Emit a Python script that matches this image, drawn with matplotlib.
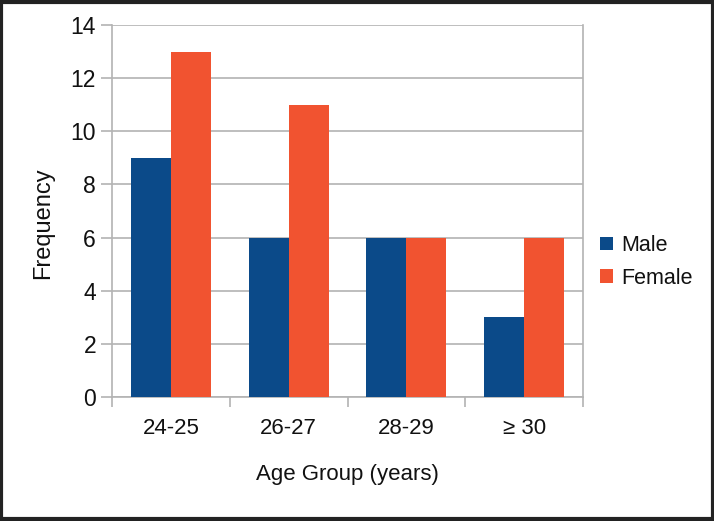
import matplotlib
matplotlib.use("Agg")
import matplotlib.pyplot as plt
import numpy as np
from matplotlib.patches import Rectangle

categories = ["24-25", "26-27", "28-29", "\u2265 30"]
male = [9, 6, 6, 3]
female = [13, 11, 6, 6]
yticks = [0, 2, 4, 6, 8, 10, 12, 14]

plt.rcParams['font.family'] = ['Liberation Sans', 'DejaVu Sans']
tc = "#111111"

fig = plt.figure(figsize=(7.14, 5.21), dpi=100)
ax = fig.add_axes([112/714, 1 - 397/521, (583-112)/714, (397-25)/521])

x = np.arange(len(categories))
w = 0.34
ax.bar(x - w/2, male, w, color="#0b4a89", label="Male", zorder=3)
ax.bar(x + w/2, female, w, color="#f15330", label="Female", zorder=3)

ax.set_xlim(-0.5, len(categories) - 0.5)
ax.set_ylim(0, 14)
ax.set_yticks(yticks)
ax.set_xticks(x)
ax.set_xticklabels(categories, fontsize=16, color=tc)
ax.set_yticklabels([str(v) for v in yticks], fontsize=16.5, color=tc)
ax.set_xticks(np.arange(len(categories) + 1) - 0.5, minor=True)
ax.tick_params(axis='x', which='major', length=0, pad=15)
ax.tick_params(axis='x', which='minor', length=7, color="#b3b3b3", width=1.2)
ax.tick_params(axis='y', length=8, color="#b3b3b3", width=1.2, pad=3.5)
ax.grid(axis='y', color="#b3b3b3", linewidth=1.2, zorder=0)
for s in ax.spines.values():
    s.set_color("#b3b3b3")
    s.set_linewidth(1.2)
ax.spines['top'].set_visible(False)

ax.set_xlabel("Age Group (years)", fontsize=16, color=tc, labelpad=18)
ax.set_ylabel("Frequency", fontsize=17, color=tc, labelpad=12, y=0.468)

leg = fig.legend(loc='center left', bbox_to_anchor=(581/714, 1 - 262/521), frameon=False,
                 prop={'size': 15.5}, handlelength=0.6, handleheight=0.6,
                 handletextpad=0.35, labelspacing=0.55)
for t in leg.get_texts():
    t.set_color(tc)

fig.patches.append(Rectangle((0.002, 0.003), 0.996, 0.994, transform=fig.transFigure,
                             fill=False, edgecolor="#222222", linewidth=3))

fig.savefig("out.png", dpi=100)
